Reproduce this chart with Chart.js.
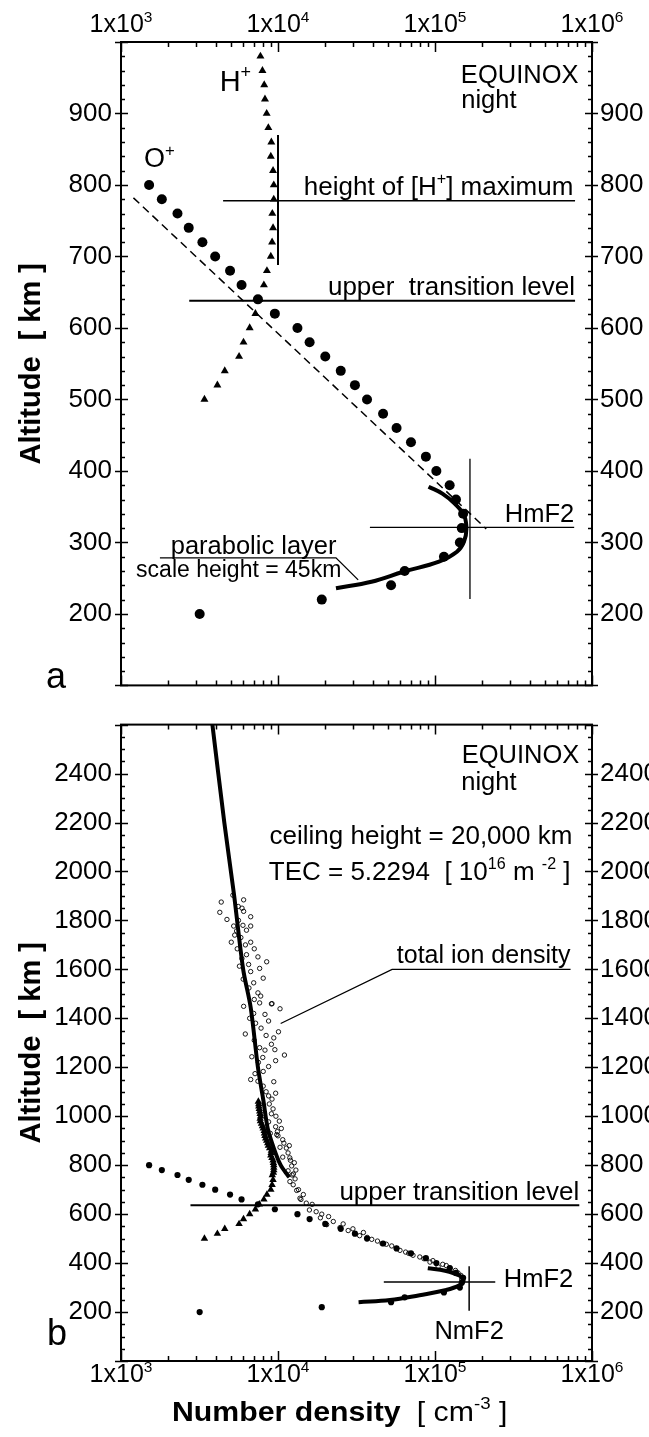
<!DOCTYPE html>
<html>
<head>
<meta charset="utf-8">
<script src="https://cdn.jsdelivr.net/npm/chart.js@4.4.1/dist/chart.umd.min.js"></script>
<style>
  body { margin: 0; background: #fff; width: 649px; height: 1437px; overflow: hidden; }
  .panel { position: absolute; left: 0; width: 649px; }
  #wrapA { top: 0; height: 710px; }
  #wrapB { top: 700px; height: 737px; }
</style>
</head>
<body>
<div class="panel" id="wrapA"><canvas id="chartA"></canvas></div>
<div class="panel" id="wrapB"><canvas id="chartB"></canvas></div>
<script>
var FONT = '"Liberation Sans", Arial, Helvetica, sans-serif';

// axis ticks
var xTickVals = [1e3, 1e4, 1e5, 1e6];
var minorMults = [1, 2, 3, 4, 5, 6, 7, 8, 9];
var yTicksA = [200, 300, 400, 500, 600, 700, 800, 900];
var yTicksB = [200, 400, 600, 800, 1000, 1200, 1400, 1600, 1800, 2000, 2200, 2400];

// O+ density (filled circles)
var oAlt = [800, 780, 760, 740, 720, 700, 680, 660, 640, 620, 600, 580, 560, 540, 520, 500,
            480, 460, 440, 420, 400, 380, 360, 340, 320, 300, 280, 260, 240, 220, 200];
var oDens = [1510, 1820, 2290, 2700, 3300, 3980, 4950, 5860, 7450, 9550, 13300, 15900, 20000, 25100, 30900, 36900,
             46700, 56900, 70300, 87500, 102000, 124000, 136000, 151000, 148000, 144000, 114000, 64100, 52500, 19000, 3170];

// H+ density (triangles)
var hAlt = [980, 960, 940, 920, 900, 880, 860, 840, 820, 800, 780, 760, 740, 720, 700, 680, 660, 640, 620, 600, 580, 560, 540, 520, 500];
var hDens = [7730, 7960, 8170, 8260, 8470, 8680, 9070, 9000, 9300, 9400, 9400, 9200, 9300, 9170, 9000, 8500, 8130, 7600, 7180, 6600, 6030, 5650, 4580, 4110, 3400];
// panel b carries the H+ profile a bit higher
var hAltTop = [1060, 1050, 1040, 1030, 1020, 1010, 1000, 990, 970, 950, 930, 910, 890, 870, 850, 830, 810, 790, 770];
var hDensTop = [7500, 7550, 7550, 7600, 7650, 7700, 7750, 7700, 7850, 8050, 8200, 8350, 8600, 8850, 9050, 9150, 9350, 9400, 9350];

// parabolic layer fits [density, altitude]
var paraA = [[91000, 378], [112000, 368], [134000, 354], [153000, 338], [158500, 319], [153000, 301],
             [138000, 287], [106000, 273], [63000, 259], [39400, 245], [23400, 236]];
var paraB = [[90000, 379], [116000, 369], [143000, 349], [152000, 329], [143000, 309], [116000, 289],
             [79800, 269], [51700, 249], [32600, 240]];

// extrapolated topside profile, panel b
var topside = [[3820, 2600], [4550, 2200], [5250, 1904], [6000, 1600], [6700, 1444], [7450, 1200],
               [8060, 1067], [8600, 950], [9400, 870], [10400, 800], [11600, 757], [11800, 751]];

// O+ scale-height extrapolation (dashed), panel a
var dashA = [[1200, 782], [212000, 319]];

// total ion density, satellite samples (open circles)
var tidPoints = [
  [4350, 1875], [5160, 1903], [6040, 1884], [5580, 1857], [4260, 1833], [4730, 1804], [6040, 1837], [6700, 1815],
  [5220, 1777], [5980, 1780], [6700, 1777], [5450, 1757], [5040, 1711], [5500, 1684], [6700, 1711], [7060, 1684],
  [5890, 1644], [7450, 1651], [8470, 1631], [5680, 1613], [6700, 1591], [7640, 1604], [8050, 1564], [6530, 1524],
  [7450, 1504], [7060, 1477], [9160, 1460], [7760, 1491], [5300, 1740], [5800, 1730], [6200, 1700], [5600, 1800],
  [6300, 1660], [6000, 1560], [6500, 1620], [7000, 1545], [5900, 1850], [6300, 1760],
  [6040, 1449], [7640, 1463], [9080, 1459], [10300, 1439], [8260, 1416], [8710, 1389], [6190, 1336], [10070, 1345],
  [9400, 1320], [7060, 1310], [9080, 1294], [7640, 1280], [8260, 1270], [9550, 1272], [10990, 1250], [9660, 1227],
  [6810, 1243], [8710, 1203], [7140, 1174], [8050, 1183], [6700, 1150], [7450, 1143], [9400, 1141], [8050, 1123],
  [9660, 1094], [9160, 1070], [8710, 1083], [9080, 1010], [8710, 977], [9660, 957], [8930, 930], [9910, 937],
  [10720, 904], [11300, 870], [11590, 850], [11890, 830], [12220, 797], [12530, 764], [12850, 744],
  [7200, 1380], [7800, 1360], [8400, 1330], [7000, 1420], [6600, 1400], [7500, 1220], [8000, 1240], [8400, 1100],
  [8800, 1050], [9300, 1030], [9700, 1000], [10200, 980], [10500, 950], [10000, 920], [10900, 890], [11800, 880],
  [12000, 820], [12700, 810], [13000, 780], [12300, 760],
  [9820, 925], [10300, 873], [10720, 833], [11590, 777], [11910, 733], [13150, 697], [13800, 665], [15140, 645],
  [15850, 617], [18620, 585], [20420, 557], [24830, 545], [27990, 533], [33110, 512], [39540, 497], [48980, 477],
  [59840, 452], [72440, 432], [92900, 404], [104700, 385],
  [12500, 720], [13500, 700], [14500, 680], [14000, 660], [16500, 640], [17500, 610], [19000, 600], [21000, 590],
  [22500, 570], [26000, 560], [30000, 540], [35000, 525], [37000, 505], [43000, 490], [46000, 480], [53000, 470],
  [57000, 460], [65000, 445], [68000, 440], [80000, 425], [85000, 418], [97000, 410], [112000, 395], [118000, 390],
  [125000, 380], [135000, 370], [140000, 360], [146000, 350], [150000, 342], [148000, 335]
];

// reference lines [density, altitude]
var hMaxLine = [[4470, 778], [780000, 778]];
var hMaxVert = [[10000, 688], [10000, 870]];
var utlA = [[2720, 638], [780000, 638]];
var hmf2A = [[38500, 321], [770000, 321]];
var nmf2A = [[167000, 221], [167000, 417]];
var paraLeader = [[1770, 278.5], [23400, 278.5], [32400, 247.6]];
var utlB = [[2770, 636], [830000, 636]];
var hmf2B = [[47200, 323], [242000, 323]];
var nmf2B = [[165000, 205], [165000, 387]];
var tidLeader = [[730000, 1600], [53300, 1600], [10400, 1379]];

function pts(xs, ys) { return xs.map(function (x, i) { return { x: x, y: ys[i] }; }); }
function pp(arr) { return arr.map(function (p) { return { x: p[0], y: p[1] }; }); }

function lineSet(data, width, dash, tension) {
  return { data: pp(data), showLine: true, borderColor: '#000', borderWidth: width, borderDash: dash || [],
           pointRadius: 0, tension: tension || 0, fill: false, order: 1 };
}
function markSet(data, style, r, fill, bw) {
  return { data: data, showLine: false, pointStyle: style, pointRadius: r, backgroundColor: fill,
           borderColor: '#000', borderWidth: bw, order: 2 };
}

function font(size, weight) { return (weight || 'normal') + ' ' + size + 'px ' + FONT; }

// text made of plain and superscript pieces; sx stretches it sideways
function drawRich(ctx, parts, x, y, align, size, weight, sx) {
  sx = sx || 1;
  var w = 0;
  parts.forEach(function (p) {
    ctx.font = font(p[1] ? size * 0.62 : size, weight);
    w += ctx.measureText(p[0]).width;
  });
  var cx = align === 'right' ? -w : (align === 'center' ? -w / 2 : 0);
  ctx.save();
  ctx.translate(x, y);
  ctx.scale(sx, 1);
  ctx.textAlign = 'left';
  ctx.textBaseline = 'alphabetic';
  parts.forEach(function (p) {
    ctx.font = font(p[1] ? size * 0.62 : size, weight);
    ctx.fillText(p[0], cx, p[1] ? -size * 0.42 : 0);
    cx += ctx.measureText(p[0]).width;
  });
  ctx.restore();
}

var frameTicks = {
  id: 'frameTicks',
  afterDraw: function (chart, args, o) {
    var ctx = chart.ctx, a = chart.chartArea, xs = chart.scales.x, ys = chart.scales.y;
    ctx.save();
    ctx.strokeStyle = '#000';
    ctx.fillStyle = '#000';
    ctx.lineWidth = 1.5;
    ctx.beginPath();
    xTickVals.forEach(function (d, i) {
      var mults = i < xTickVals.length - 1 ? minorMults : [1];
      mults.forEach(function (m) {
        var px = Math.round(xs.getPixelForValue(d * m)) + 0.5;
        var len = m === 1 ? 10 : 5;
        ctx.moveTo(px, a.top); ctx.lineTo(px, a.top + len);
        ctx.moveTo(px, a.bottom); ctx.lineTo(px, a.bottom - len);
      });
    });
    for (var v = ys.min; v <= ys.max + 1e-6; v += o.minor) {
      var py = Math.round(ys.getPixelForValue(v)) + 0.5;
      if (v % o.major === 0) {
        ctx.moveTo(a.left - 6, py); ctx.lineTo(a.left + 7, py);
        ctx.moveTo(a.right - 7, py); ctx.lineTo(a.right + 6, py);
      } else {
        ctx.moveTo(a.left, py); ctx.lineTo(a.left + 4, py);
        ctx.moveTo(a.right - 4, py); ctx.lineTo(a.right, py);
      }
    }
    ctx.stroke();
    ctx.lineWidth = 2;
    ctx.strokeRect(a.left, a.top, a.right - a.left, a.bottom - a.top);
    xTickVals.forEach(function (d) {
      var ex = Math.round(Math.log10(d));
      drawRich(ctx, [['1x10', 0], [String(ex), 1]], xs.getPixelForValue(d), o.labelY, 'center', 25);
    });
    ctx.restore();
  }
};

var notes = {
  id: 'notes',
  afterDraw: function (chart, args, o) {
    var ctx = chart.ctx, xs = chart.scales.x, ys = chart.scales.y;
    ctx.save();
    ctx.fillStyle = '#000';
    o.items.forEach(function (n) {
      var px = n.px !== undefined ? n.px : xs.getPixelForValue(n.x);
      var py = n.py !== undefined ? n.py : ys.getPixelForValue(n.y);
      drawRich(ctx, n.t, px, py, n.align || 'left', n.size || 26, n.weight, n.sx);
    });
    ctx.restore();
  }
};

function xScale(pos, h) {
  return {
    type: 'logarithmic', position: pos, min: 1e3, max: 1e6,
    afterBuildTicks: function (s) { s.ticks = xTickVals.map(function (v) { return { value: v }; }); },
    ticks: { display: false }, grid: { display: false }, border: { display: false },
    afterFit: function (s) { s.height = h; }
  };
}
function yScale(pos, min, max, ticks, w, withTitle) {
  return {
    type: 'linear', position: pos, min: min, max: max,
    afterBuildTicks: function (s) { s.ticks = ticks.map(function (v) { return { value: v }; }); },
    ticks: { color: '#000', font: { family: FONT, size: 26 }, padding: pos === 'left' ? 9 : 8,
             callback: function (v) { return String(v); } },
    grid: { display: false, drawTicks: false }, border: { display: false },
    title: withTitle ? { display: true, text: 'Altitude  [ km ]', color: '#000',
                         font: { family: FONT, size: 29, weight: 'bold' }, padding: { top: 15, bottom: 0 } }
                     : { display: false },
    afterFit: function (s) { s.width = w; }
  };
}

function baseOptions(scales, padding, frameOpts, noteItems) {
  return {
    responsive: true, maintainAspectRatio: false, animation: false, events: [],
    layout: { padding: padding },
    scales: scales,
    plugins: { legend: { display: false }, tooltip: { enabled: false },
               frameTicks: frameOpts, notes: { items: noteItems } }
  };
}

// panel a
new Chart(document.getElementById('chartA'), {
  type: 'scatter',
  data: {
    datasets: [
      markSet(pts(oDens, oAlt), 'circle', 5, '#000', 0),
      markSet(pts(hDens, hAlt), 'triangle', 4.6, '#000', 0),
      lineSet(paraA, 4, null, 0.4),
      lineSet(dashA, 1.5, [8, 5]),
      lineSet(hMaxLine, 1.5),
      lineSet(hMaxVert, 2),
      lineSet(utlA, 2),
      lineSet(hmf2A, 1.3),
      lineSet(nmf2A, 1.3),
      lineSet(paraLeader, 1.3)
    ]
  },
  options: baseOptions(
    { x: xScale('top', 42), y: yScale('left', 100, 1000, yTicksA, 121, true), y2: yScale('right', 100, 1000, yTicksA, 57, false) },
    { bottom: 17 },
    { minor: 20, major: 100, labelY: 32 },
    [
      { t: [['EQUINOX', 0]], x: 820000, y: 942, align: 'right', size: 25.5 },
      { t: [['night', 0]], x: 147000, y: 908, size: 25.5 },
      { t: [['H', 0], ['+', 1]], x: 4250, y: 932, size: 29 },
      { t: [['O', 0], ['+', 1]], x: 1400, y: 825, size: 27 },
      { t: [['height of [H', 0], ['+', 1], ['] maximum', 0]], x: 760000, y: 786, align: 'right', size: 26 },
      { t: [['upper  transition level', 0]], x: 780000, y: 646, align: 'right', size: 26 },
      { t: [['HmF2', 0]], x: 770000, y: 328, align: 'right', size: 25.5 },
      { t: [['parabolic layer', 0]], x: 23600, y: 284.5, align: 'right', size: 25.5 },
      { t: [['scale height = 45km', 0]], x: 25300, y: 252, align: 'right', size: 23 },
      { t: [['a', 0]], px: 46, py: 688, size: 36 }
    ]
  ),
  plugins: [frameTicks, notes]
});

// panel b
new Chart(document.getElementById('chartB'), {
  type: 'scatter',
  data: {
    datasets: [
      lineSet(topside, 4, null, 0.3),
      lineSet(paraB, 4, null, 0.4),
      markSet(pts(oDens, oAlt), 'circle', 3.1, '#000', 0),
      markSet(pts(hDensTop, hAltTop).concat(pts(hDens, hAlt)), 'triangle', 4.3, '#000', 0),
      Object.assign(markSet(pp(tidPoints), 'circle', 2.2, 'rgba(255,255,255,0)', 0.9), { order: 3 }),
      lineSet(utlB, 2),
      lineSet(hmf2B, 1.5),
      lineSet(nmf2B, 1.5),
      lineSet(tidLeader, 1.3)
    ]
  },
  options: baseOptions(
    { x: xScale('bottom', 76), y: yScale('left', 0, 2600, yTicksB, 121, true), y2: yScale('right', 0, 2600, yTicksB, 57, false) },
    { top: 12 },
    { minor: 50, major: 200, labelY: 682 },
    [
      { t: [['EQUINOX', 0]], x: 830000, y: 2444, align: 'right', size: 25.5 },
      { t: [['night', 0]], x: 147000, y: 2331, size: 25.5 },
      { t: [['ceiling height = 20,000 km', 0]], x: 750000, y: 2111, align: 'right', size: 26 },
      { t: [['TEC = 5.2294  [ 10', 0], ['16', 1], [' m ', 0], ['-2', 1], [' ]', 0]], x: 730000, y: 1965, align: 'right', size: 26 },
      { t: [['total ion density', 0]], x: 730000, y: 1628, align: 'right', size: 25 },
      { t: [['upper transition level', 0]], x: 830000, y: 659, align: 'right', size: 26 },
      { t: [['HmF2', 0]], x: 274000, y: 303, size: 25.5 },
      { t: [['NmF2', 0]], x: 165000, y: 89, align: 'center', size: 25.5 },
      { t: [['b', 0]], px: 47, py: 645, size: 36 },
      { t: [['Number density', 0]], px: 172, py: 721, size: 27, weight: 'bold', sx: 1.12 },
      { t: [['  [ cm', 0], ['-3', 1], [' ]', 0]], px: 400, py: 721, size: 28, sx: 1.08 }
    ]
  ),
  plugins: [frameTicks, notes]
});
</script>
</body>
</html>
